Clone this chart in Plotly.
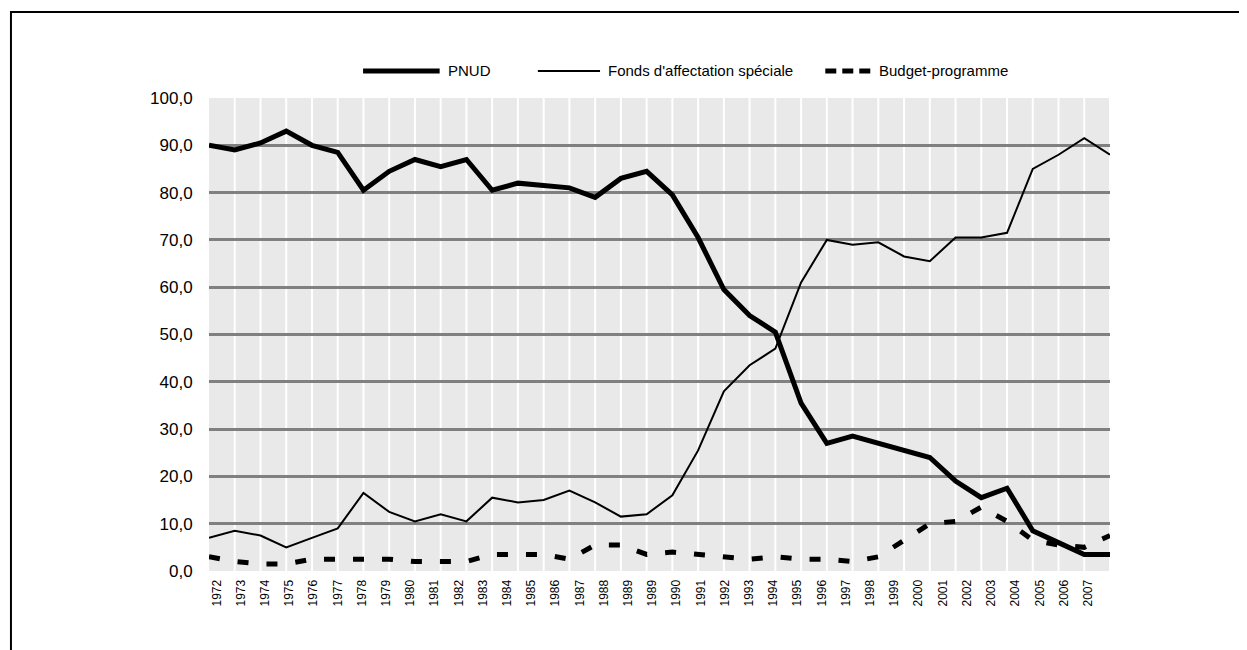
import plotly.graph_objects as go

# one point per category on the chart
pnud = [90.0, 89.0, 90.5, 93.0, 90.0, 88.5, 80.5, 84.5, 87.0, 85.5, 87.0, 80.5,
        82.0, 81.5, 81.0, 79.0, 83.0, 84.5, 79.5, 70.5, 59.5, 54.0, 50.5, 35.5,
        27.0, 28.5, 27.0, 25.5, 24.0, 19.0, 15.5, 17.5, 8.5, 6.0, 3.5, 3.5]
fonds = [7.0, 8.5, 7.5, 5.0, 7.0, 9.0, 16.5, 12.5, 10.5, 12.0, 10.5, 15.5,
         14.5, 15.0, 17.0, 14.5, 11.5, 12.0, 16.0, 25.5, 38.0, 43.5, 47.0, 61.0,
         70.0, 69.0, 69.5, 66.5, 65.5, 70.5, 70.5, 71.5, 85.0, 88.0, 91.5, 88.0]
budget = [3.0, 2.0, 1.5, 1.5, 2.5, 2.5, 2.5, 2.5, 2.0, 2.0, 2.0, 3.5,
          3.5, 3.5, 2.5, 5.5, 5.5, 3.5, 4.0, 3.5, 3.0, 2.5, 3.0, 2.5,
          2.5, 2.0, 3.0, 6.5, 10.0, 10.5, 13.5, 10.5, 6.5, 5.5, 5.0, 7.5]

series_names = ["PNUD", "Fonds d'affectation spéciale", "Budget-programme"]

# axis labels as printed under the chart (37 of them, 1989 twice)
year_labels = ["1972", "1973", "1974", "1975", "1976", "1977", "1978", "1979",
               "1980", "1981", "1982", "1983", "1984", "1985", "1986", "1987",
               "1988", "1989", "1989", "1990", "1991", "1992", "1993", "1994",
               "1995", "1996", "1997", "1998", "1999", "2000", "2001", "2002",
               "2003", "2004", "2005", "2006", "2007"]
y_ticks = [0, 10, 20, 30, 40, 50, 60, 70, 80, 90, 100]
y_labels = ["0,0", "10,0", "20,0", "30,0", "40,0", "50,0", "60,0", "70,0",
            "80,0", "90,0", "100,0"]

x = list(range(len(pnud)))
font = "Liberation Sans, Arial, sans-serif"

styles = [dict(color="black", width=5),
          dict(color="black", width=2),
          dict(color="black", width=5, dash="11px,18px")]

fig = go.Figure()
for name, vals, st in zip(series_names, [pnud, fonds, budget], styles):
    fig.add_trace(go.Scatter(x=x, y=vals, mode="lines", name=name, line=st,
                             showlegend=False))
# invisible trace carrying the year label axis
fig.add_trace(go.Scatter(x=list(range(len(year_labels))), y=[None] * len(year_labels),
                         xaxis="x2", showlegend=False, hoverinfo="skip"))

# white vertical lines over the gray horizontal grid
for i in x[1:]:
    fig.add_shape(type="line", xref="x", yref="paper", x0=i, x1=i, y0=0, y1=1,
                  line=dict(color="white", width=2), layer="between")

# legend drawn by hand so the sample lines are as long as in the original
leg_y = 1.057
leg_lines = [(0.171, 0.256), (0.365, 0.434), (0.684, 0.734)]
leg_styles = [dict(color="black", width=5),
              dict(color="black", width=2),
              dict(color="black", width=5, dash="11px,6px")]
for name, (a, b), st in zip(series_names, leg_lines, leg_styles):
    fig.add_shape(type="line", xref="paper", yref="paper", x0=a, x1=b,
                  y0=leg_y, y1=leg_y, line=st)
    fig.add_annotation(xref="paper", yref="paper", x=b + 0.007, y=leg_y + 0.002,
                       xanchor="left", yanchor="middle", text=name, showarrow=False,
                       font=dict(size=15))

# outer frame (runs off the right and bottom edges)
fig.add_shape(type="rect", xref="paper", yref="paper", x0=-0.2198, x1=1.3,
              y0=-0.3, y1=1.1818, line=dict(color="black", width=2), layer="above")

# page body adds 8px, so the figure is 8px smaller and margins shifted
fig.update_layout(
    width=1239, height=642,
    margin=dict(l=201, r=137, t=90, b=79, autoexpand=False),
    paper_bgcolor="white", plot_bgcolor="#e9e9e9",
    font=dict(family=font, color="black"),
    showlegend=False,
    xaxis=dict(range=[0, len(pnud) - 1], showgrid=False, showticklabels=False,
               zeroline=False, showline=False, fixedrange=True),
    xaxis2=dict(overlaying="x", anchor="y", side="bottom", range=[-0.318, 36.908],
                tickmode="array", tickvals=list(range(len(year_labels))),
                ticktext=year_labels, tickangle=-90, tickfont=dict(size=12),
                ticks="outside", ticklen=3, tickcolor="rgba(0,0,0,0)",
                showgrid=False, zeroline=False, showline=False),
    yaxis=dict(range=[0, 100], tickmode="array", tickvals=y_ticks, ticktext=y_labels,
               tickfont=dict(size=17), showgrid=True, gridcolor="#808080", gridwidth=2.5,
               zeroline=False, showline=False, ticks="outside", ticklen=12,
               tickcolor="rgba(0,0,0,0)"),
)

fig.write_html("out.html")
